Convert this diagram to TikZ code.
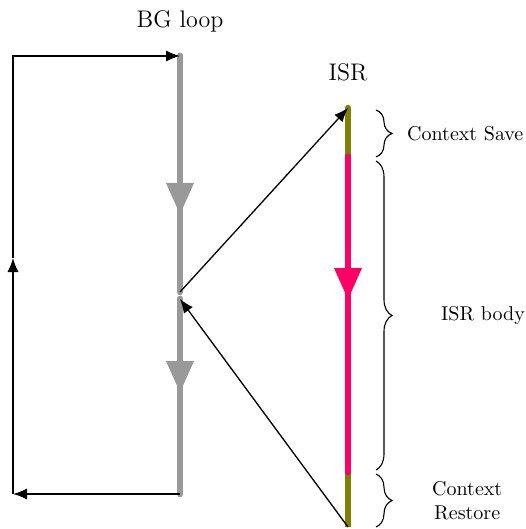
\documentclass[tikz,border=0pt]{standalone}
\usetikzlibrary{arrows.meta,decorations.pathreplacing}
\definecolor{bggray}{HTML}{999999}
\definecolor{isrpink}{HTML}{FF0066}
\definecolor{ctxolive}{HTML}{7F7F00}
\begin{document}
\begin{tikzpicture}[x=0.5pt,y=-0.5pt,
		bgline/.style={line width=3.3pt, draw=bggray, line cap=round},
		isrline/.style={line width=3.3pt, draw=isrpink, line cap=round},
		ctxline/.style={line width=3.3pt, draw=ctxolive, line cap=round},
		midtip/.style={-{Triangle[length=16pt,width=13pt]}},
		flow/.style={line width=0.65pt, -{Latex[length=7pt,width=5.5pt]}},
		brc/.style={decorate, decoration={brace, amplitude=8pt}, line width=0.55pt},
		title/.style={font=\large},
		lbl/.style={align=center}]
\useasboundingbox (0,0) rectangle (525,529);
% titles
\node[title] (bgtitle) at (180,21) {BG loop};
\node[title] (isrtitle) at (348,72) {ISR};
% background loop
\coordinate (bgtop) at (180,56);
\coordinate (bgarrA) at (180,215);
\coordinate (bgend) at (180,292);
\coordinate (bgret) at (180,299);
\coordinate (bgarrB) at (180,393);
\coordinate (bgbot) at (180,494);
\draw[bgline] (bgtop) -- (bgend);
\draw[bgline] (bgret) -- (bgbot);
\draw[bgline, midtip] (bgtop) -- (bgarrA);
\draw[bgline, midtip] (bgret) -- (bgarrB);
\coordinate (lbot) at (13,494);
\coordinate (lmid) at (13,258);
\coordinate (ltop) at (13,56);
\draw[flow] (bgbot) -- (lbot);
\draw[flow] (lbot) -- (lmid);
\draw[flow] (lmid) -- (ltop) -- (bgtop);
% interrupt service routine
\coordinate (isrtop) at (348,108);
\coordinate (isrA) at (348,157);
\coordinate (israrr) at (348,300);
\coordinate (isrB) at (348,472);
\coordinate (isrbot) at (348,527);
\draw[ctxline] (isrtop) -- (isrA);
\draw[ctxline, line cap=butt] (isrB) -- (isrbot);
\draw[isrline] (isrA) -- (isrB);
\draw[isrline, midtip] (isrA) -- (israrr);
\draw[flow] (bgend) -- (isrtop);
\draw[flow] (isrbot) -- (bgret);
% braces
\draw[brc] (376,110) -- (376,157) node[midway, right=12pt] (save) {Context Save};
\draw[brc] (376,161) -- (376,470) node[midway, right=29pt] (body) {ISR body};
\draw[brc] (376,474) -- (376,527) node[midway, right=24.5pt, lbl] (restore) {Context\\Restore};
\end{tikzpicture}
\end{document}
